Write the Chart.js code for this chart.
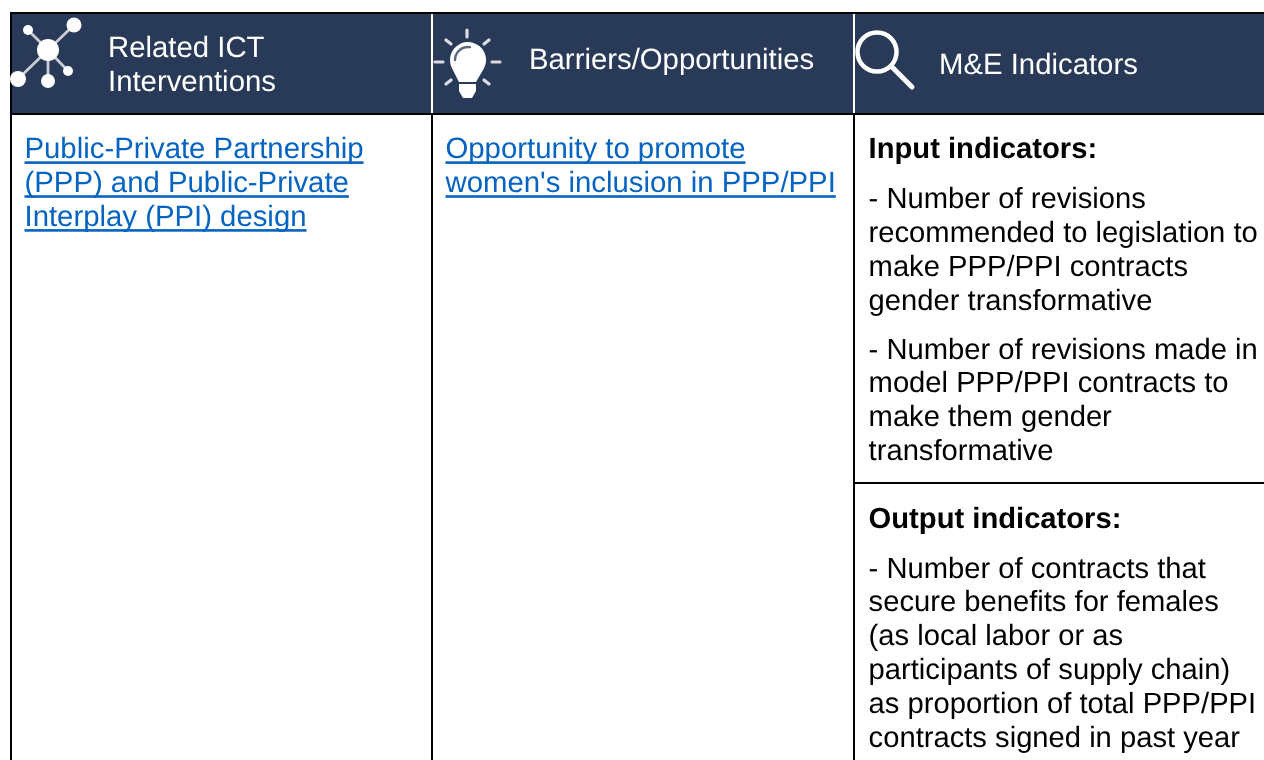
<!DOCTYPE html>
<html><head><meta charset="utf-8">
<style>html,body{margin:0;padding:0;background:#fff;overflow:hidden;width:1264px;height:760px}canvas{display:block}</style>
<script src="https://cdn.jsdelivr.net/npm/chart.js@4"></script>
</head><body><canvas id="c" width="1276" height="760"></canvas>
<script>
const headers = ["Related ICT Interventions", "Barriers/Opportunities", "M&E Indicators"];
const headerBand = [[0, 1], [0, 1], [0, 1]];
const interventionLinks = ["Public-Private Partnership", "(PPP) and Public-Private", "Interplay (PPI) design"];
const barrierLinks = ["Opportunity to promote", "women's inclusion in PPP/PPI"];
const inputTitle = "Input indicators:";
const inputLinesA = ["- Number of revisions", "recommended to legislation to", "make PPP/PPI contracts", "gender transformative"];
const inputLinesB = ["- Number of revisions made in", "model PPP/PPI contracts to", "make them gender", "transformative"];
const outputTitle = "Output indicators:";
const outputLines = ["- Number of contracts that", "secure benefits for females", "(as local labor or as", "participants of supply chain)", "as proportion of total PPP/PPI", "contracts signed in past year"];

const NAVY = "#283a57", FONT = "'Liberation Sans', Arial, sans-serif", LINK = "#0563c1";
const SIZE = 29.33, BODY = 29.18;

function text(ctx, s, x, y, color, bold, size) {
  ctx.font = (bold ? "bold " : "") + (size || SIZE) + "px " + FONT;
  ctx.textRendering = "geometricPrecision";
  ctx.fillStyle = color; ctx.textAlign = "left"; ctx.textBaseline = "alphabetic";
  ctx.fillText(s, x, y);
}
function block(ctx, lines, x, y, color, link, size) {
  lines.forEach((s, i) => {
    const by = y + i * 33.9;
    text(ctx, s, x, by, color, false, size);
    if (link) { const w = ctx.measureText(s).width; ctx.fillStyle = color; ctx.fillRect(x, by + 3, w, 2.6); }
  });
}
function seg(ctx, x1, y1, x2, y2, w, color) {
  ctx.strokeStyle = color; ctx.lineWidth = w; ctx.lineCap = "round";
  ctx.beginPath(); ctx.moveTo(x1, y1); ctx.lineTo(x2, y2); ctx.stroke();
}
function dot(ctx, x, y, r, color) { ctx.fillStyle = color; ctx.beginPath(); ctx.arc(x, y, r, 0, Math.PI * 2); ctx.fill(); }

function networkIcon(ctx) {
  const nodes = [[74, 25, 7.5], [28, 30, 5], [18, 79, 8], [48, 81, 7], [68, 71, 5]];
  nodes.forEach(n => seg(ctx, 48, 50, n[0], n[1], 2.8, "#c9ced6"));
  dot(ctx, 48, 50, 11, "#fff");
  nodes.forEach(n => dot(ctx, n[0], n[1], n[2], "#fff"));
}
function bulbIcon(ctx) {
  const rays = [[467,30,467,37],[446,40,451,44],[489,40,484,44],[435,62,443,62],[492,62,500,62],[446,84,451,80],[489,84,484,80]];
  rays.forEach(r => seg(ctx, r[0], r[1], r[2], r[3], 3.2, "#d9dce2"));
  ctx.fillStyle = "#fff"; ctx.beginPath();
  ctx.arc(468, 60, 18, Math.PI * 0.85, Math.PI * 0.15);
  ctx.lineTo(476, 82); ctx.lineTo(459, 82); ctx.closePath(); ctx.fill();
  ctx.beginPath(); ctx.moveTo(459, 84); ctx.lineTo(476, 84); ctx.lineTo(476, 91); ctx.lineTo(472, 98); ctx.lineTo(463, 98); ctx.lineTo(459, 91); ctx.closePath(); ctx.fill();
  ctx.strokeStyle = "#5a6880"; ctx.lineWidth = 2.4; ctx.lineCap = "round";
  ctx.beginPath(); ctx.arc(468, 60, 13, Math.PI * 1.0, Math.PI * 1.55); ctx.stroke();
}
function searchIcon(ctx) {
  ctx.strokeStyle = "#fff"; ctx.lineWidth = 4.5;
  ctx.beginPath(); ctx.arc(877, 52, 19.5, 0, Math.PI * 2); ctx.stroke();
  seg(ctx, 892, 67, 912, 87, 5, "#fff");
}

const tablePlugin = {
  id: "table",
  afterDatasetsDraw(chart) {
    const ctx = chart.ctx, xs = chart.scales.x, ys = chart.scales.y;
    const L = chart.chartArea.left, T = chart.chartArea.top, R = chart.chartArea.right, B = chart.chartArea.bottom;
    const bandBottom = ys.getPixelForValue(0);
    const col2 = Math.round((xs.getPixelForValue(0) + xs.getPixelForValue(1)) / 2) - 2;
    const col3 = Math.round((xs.getPixelForValue(1) + xs.getPixelForValue(2)) / 2) - 2;
    ctx.save();
    ctx.fillStyle = "#fff";
    ctx.fillRect(col2, T, 2, bandBottom - T);
    ctx.fillRect(col3, T, 2, bandBottom - T);
    ctx.fillStyle = "#000";
    ctx.fillRect(L - 2, T - 2, R - L + 2, 2);
    ctx.fillRect(L - 2, T - 2, 2, B - T + 2);
    ctx.fillRect(L - 2, bandBottom - 1, R - L + 2, 2);
    ctx.fillRect(col2, bandBottom, 2, B - bandBottom);
    ctx.fillRect(col3, bandBottom, 2, B - bandBottom);
    ctx.fillRect(col3, 482, R - col3, 2);

    ctx.filter = "blur(0.5px)";
    networkIcon(ctx); bulbIcon(ctx); searchIcon(ctx);
    ctx.filter = "none";
    text(ctx, "Related ICT", 108, 57, "#fff");
    text(ctx, "Interventions", 108, 91, "#fff");
    text(ctx, headers[1], 529, 69, "#fff");
    text(ctx, headers[2], 939, 74, "#fff");

    block(ctx, interventionLinks, 24.5, 158.3, LINK, true);
    block(ctx, barrierLinks, 445.5, 158.3, LINK, true);
    text(ctx, inputTitle, 868.6, 158, "#000", true, BODY);
    block(ctx, inputLinesA, 868.6, 207.8, "#000", false, BODY);
    block(ctx, inputLinesB, 868.6, 358.5, "#000", false, BODY);
    text(ctx, outputTitle, 868.6, 527.5, "#000", true, BODY);
    block(ctx, outputLines, 868.6, 577.5, "#000", false, BODY);
    ctx.restore();
  }
};

new Chart(document.getElementById("c"), {
  type: "bar",
  data: { labels: headers, datasets: [{ data: headerBand, backgroundColor: NAVY, borderWidth: 0, barPercentage: 1, categoryPercentage: 1 }] },
  options: {
    responsive: false, animation: false, devicePixelRatio: 1,
    layout: { padding: { left: 12, top: 14, right: 0, bottom: 0 } },
    plugins: { legend: { display: false }, tooltip: { enabled: false } },
    scales: {
      x: { display: false },
      y: { display: false, min: -6.46, max: 1 }
    }
  },
  plugins: [tablePlugin]
});
</script></body></html>
